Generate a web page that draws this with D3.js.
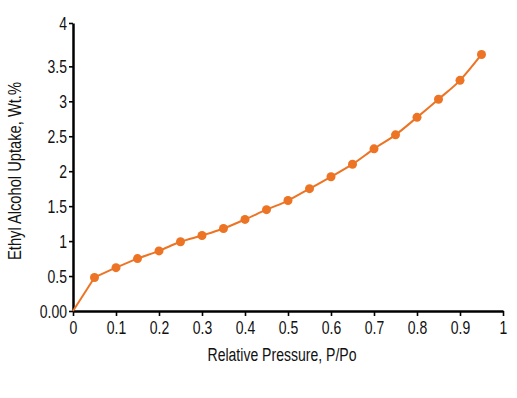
<!DOCTYPE html>
<html>
<head>
<meta charset="utf-8">
<script src="https://cdn.jsdelivr.net/npm/d3@7"></script>
<style>
  body { margin: 0; background: #fff; }
  text { font-family: "Liberation Sans", Arial, sans-serif; }
</style>
</head>
<body>
<div id="chart"></div>
<script>
// data
var pressure = [0, 0.05, 0.1, 0.15, 0.2, 0.25, 0.3, 0.35, 0.4, 0.45, 0.5,
                0.55, 0.6, 0.65, 0.7, 0.75, 0.8, 0.85, 0.9, 0.95];
var uptake = [0, 0.48, 0.62, 0.75, 0.86, 0.99, 1.08, 1.18, 1.31, 1.45, 1.58,
              1.75, 1.92, 2.10, 2.32, 2.52, 2.77, 3.03, 3.30, 3.67];
var xTicks = [0, 0.1, 0.2, 0.3, 0.4, 0.5, 0.6, 0.7, 0.8, 0.9, 1];
var xTickLabels = ["0", "0.1", "0.2", "0.3", "0.4", "0.5", "0.6", "0.7", "0.8", "0.9", "1"];
// the top tick sits at the axis end, a bit above the 0.5 spacing
var yTicks = [0, 0.5, 1, 1.5, 2, 2.5, 3, 3.5, 4.12];
var yTickLabels = ["0.00", "0.5", "1", "1.5", "2", "2.5", "3", "3.5", "4"];

var narrow = 0.8; // squeeze text, no narrow font installed

function main() {
    var margin = {top: 23, right: 14, bottom: 87, left: 73},
        width = 517 - margin.left - margin.right,
        height = 398 - margin.top - margin.bottom;

    var svg = d3.select("#chart").append("svg")
        .attr("width", 517)
        .attr("height", 398);

    var g = svg.append("g")
        .attr("transform", "translate(" + margin.left + "," + margin.top + ")");

    var x = d3.scaleLinear().domain([0, 1]).range([0, width]);
    var y = d3.scaleLinear().domain([0, 4.12]).range([height, 0]);

    // x axis
    var xAxis = g.append("g")
        .attr("transform", "translate(0," + height + ")")
        .call(d3.axisBottom(x)
            .tickValues(xTicks)
            .tickFormat(function (d, i) { return xTickLabels[i]; })
            .tickSize(5)
            .tickSizeOuter(0)
            .tickPadding(5.5));

    // y axis
    var yAxis = g.append("g")
        .call(d3.axisLeft(y)
            .tickValues(yTicks)
            .tickFormat(function (d, i) { return yTickLabels[i]; })
            .tickSize(4)
            .tickSizeOuter(0)
            .tickPadding(2));

    [xAxis, yAxis].forEach(function (a) {
        a.select(".domain").attr("stroke", "#000").attr("stroke-width", 2.5);
        a.selectAll(".tick line").attr("stroke", "#000").attr("stroke-width", 1.6);
        a.selectAll(".tick text")
            .attr("fill", "#111")
            .attr("font-size", "17.5px")
            .attr("transform", "scale(" + narrow + ",1)");
    });
    yAxis.selectAll(".tick text")
        .attr("x", -6 / narrow)
        .attr("dy", "0.36em");

    // axis titles
    svg.append("text")
        .attr("x", 282)
        .attr("y", 361)
        .attr("text-anchor", "middle")
        .attr("font-size", "18px")
        .attr("fill", "#111")
        .attr("textLength", 149)
        .attr("lengthAdjust", "spacingAndGlyphs")
        .text("Relative Pressure, P/Po");

    svg.append("text")
        .attr("transform", "translate(21,171) rotate(-90)")
        .attr("text-anchor", "middle")
        .attr("font-size", "18px")
        .attr("fill", "#111")
        .attr("textLength", 178)
        .attr("lengthAdjust", "spacingAndGlyphs")
        .text("Ethyl Alcohol Uptake, Wt.%");

    var data = pressure.map(function (p, i) { return {p: p, u: uptake[i]}; });

    var straight = d3.line()
        .x(function (d) { return x(d.p); })
        .y(function (d) { return y(d.u); });
    var smooth = d3.line()
        .x(function (d) { return x(d.p); })
        .y(function (d) { return y(d.u); })
        .curve(d3.curveMonotoneX);

    // first piece from the origin is straight
    g.append("path")
        .datum(data.slice(0, 2))
        .attr("fill", "none")
        .attr("stroke", "#ec7424")
        .attr("stroke-width", 2)
        .attr("d", straight);

    g.append("path")
        .datum(data.slice(1))
        .attr("fill", "none")
        .attr("stroke", "#ec7424")
        .attr("stroke-width", 2)
        .attr("d", smooth);

    // markers, none at the origin
    g.selectAll("circle.pt")
        .data(data.slice(1))
        .enter()
        .append("circle")
        .attr("class", "pt")
        .attr("cx", function (d) { return x(d.p); })
        .attr("cy", function (d) { return y(d.u); })
        .attr("r", 4.5)
        .attr("fill", "#ec7424");
}

main();
</script>
</body>
</html>
